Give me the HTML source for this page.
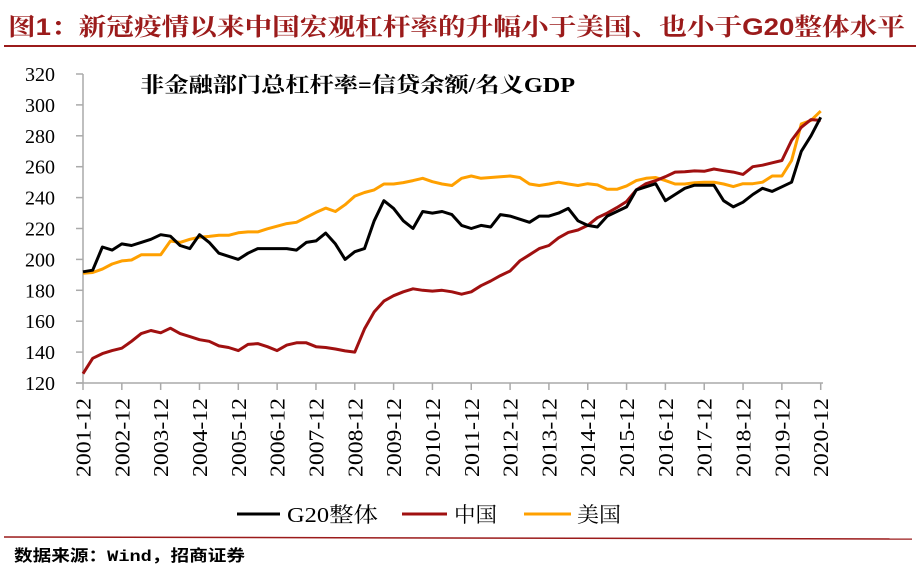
<!DOCTYPE html>
<html><head><meta charset="utf-8">
<style>
html,body{margin:0;padding:0;background:#fff;}
body{width:920px;height:578px;overflow:hidden;position:relative;font-family:"Liberation Serif","Noto Serif CJK SC",serif;}
</style></head>
<body>
<svg id="chart" width="920" height="578" viewBox="0 0 920 578" xmlns="http://www.w3.org/2000/svg">
  <text x="8" y="35" font-family="Liberation Sans, Noto Serif CJK SC, serif" font-weight="bold" font-size="24" fill="#9b1b1b" textLength="897" lengthAdjust="spacingAndGlyphs">图1：新冠疫情以来中国宏观杠杆率的升幅小于美国、也小于G20整体水平</text>
  <line x1="4" y1="46" x2="916" y2="46" stroke="#9b1b1b" stroke-width="2"/>
  <text x="140" y="92" font-family="Liberation Serif, Noto Serif CJK SC, serif" font-weight="bold" font-size="21" fill="#000" textLength="435" lengthAdjust="spacingAndGlyphs">非金融部门总杠杆率=信贷余额/名义GDP</text>
  <g id="axes"></g>
  <g id="series"></g>
  <g>
    <line x1="237" y1="514" x2="280" y2="514" stroke="#000" stroke-width="3"/>
    <text x="287" y="522" font-size="21" textLength="91" lengthAdjust="spacingAndGlyphs">G20整体</text>
    <line x1="402" y1="514" x2="447" y2="514" stroke="#a01010" stroke-width="3"/>
    <text x="454" y="522" font-size="21" textLength="43" lengthAdjust="spacingAndGlyphs">中国</text>
    <line x1="524" y1="514" x2="571" y2="514" stroke="#ffa000" stroke-width="3"/>
    <text x="577" y="522" font-size="21" textLength="44" lengthAdjust="spacingAndGlyphs">美国</text>
  </g>
  <line x1="4" y1="537" x2="912" y2="539" stroke="#9b1b1b" stroke-width="1.5"/>
  <text x="14" y="561" font-family="Liberation Mono, Noto Sans CJK SC, monospace" font-weight="bold" font-size="16" textLength="231" lengthAdjust="spacingAndGlyphs">数据来源：Wind，招商证券</text>
</svg>
<script>
const yTicks=[120,140,160,180,200,220,240,260,280,300,320];
const xTickLabels=["2001-12","2002-12","2003-12","2004-12","2005-12","2006-12","2007-12","2008-12","2009-12","2010-12","2011-12","2012-12","2013-12","2014-12","2015-12","2016-12","2017-12","2018-12","2019-12","2020-12"];
const g20=[192,193,208,206,210,209,211,213,216,215,209,207,216,211,204,202,200,204,207,207,207,207,206,211,212,217,210,200,205,207,225,238,233,225,220,231,230,231,229,222,220,222,221,229,228,226,224,228,228,230,233,225,222,221,228,231,234,245,247,249,238,242,246,248,248,248,238,234,237,242,246,244,247,250,270,280,292];
const china=[126,136,139,141,142.5,147,152,154,152.5,155.5,152,150,148,147,144,143,141,145,145.5,143.5,141,144.5,146,146,143.5,143,142,140.8,140,155,166,173,176.5,179,181,180,179.5,180,179,177.5,179,183,186,189.5,192.5,199,203,207,209,214,217.5,219,222,227,230,233.5,237.5,245,249,251,253.5,256.5,256.7,257.3,257,258.5,257.4,256.5,255,260,261,262.5,264,277,285.5,290.5,290];
const usa=[191,191.5,193.7,197,199,199.6,203,203,203,211.9,211,213,214.4,214.9,215.6,215.6,217.2,217.8,217.8,219.8,221.5,223.2,224,227.2,230.4,233.2,231,235.4,241,243.3,245,248.8,248.8,249.7,251,252.5,250.3,248.8,247.8,252.5,254,252.5,253,253.5,254,253,248.8,247.8,248.8,250,248.8,247.8,249,248.2,245.4,245.4,247.6,251,252.5,253,251,248.8,248.8,249.6,250,250,248.8,247.1,249,249,250,254,254,264,287.7,290,296];
const NS="http://www.w3.org/2000/svg";
const X0=83,X1=820.7,Y0=383,Y1=74,VMIN=120,VMAX=320;
function xScale(i,n){return X0+i*(X1-X0)/(n-1);}
function yScale(v){return Y0-(v-VMIN)*(Y0-Y1)/(VMAX-VMIN);}
function mk(tag,attrs,parent){const e=document.createElementNS(NS,tag);for(const k in attrs)e.setAttribute(k,attrs[k]);parent.appendChild(e);return e;}
const axes=document.getElementById('axes');
const yAxis=mk('line',{x1:X0,y1:Y1,x2:X0,y2:Y0,stroke:'#aaa','stroke-width':1.5},axes);


const xAxis=mk('line',{x1:X0-7,y1:Y0,x2:823,y2:Y0,stroke:'#aaa','stroke-width':1.5},axes);


yTicks.forEach(v=>{
  const y=yScale(v);
  const t=mk('line',{x1:X0-7,y1:y,x2:X0,y2:y,stroke:'#aaa','stroke-width':1.5},axes);
  
  
  const l=mk('text',{x:55,y:y+7,'text-anchor':'end','font-size':20},axes);
  l.textContent=v;
  
  
});
const nPts=g20.length;
xTickLabels.forEach((lab,k)=>{
  const x=xScale(k*4,nPts);
  const t=mk('line',{x1:x,y1:Y0,x2:x,y2:Y0+7,stroke:'#aaa','stroke-width':1.5},axes);
  
  
  const l=mk('text',{x:0,y:0,'text-anchor':'end','font-size':21,textLength:79,lengthAdjust:'spacingAndGlyphs',transform:'translate('+(x+7.5)+',398) rotate(-90)'},axes);
  l.textContent=lab;
  
  
});
const series=document.getElementById('series');
[[usa,'#ffa000','series-usa'],[china,'#a01010','series-china'],[g20,'#000','series-g20']].forEach(([d,c,name])=>{
  const pts=d.map((v,i)=>xScale(i,d.length).toFixed(1)+','+yScale(v).toFixed(1)).join(' ');
  const p=mk('polyline',{points:pts,fill:'none',stroke:c,'stroke-width':3,'stroke-linejoin':'round'},series);
  
  
});
</script>
</body></html>
